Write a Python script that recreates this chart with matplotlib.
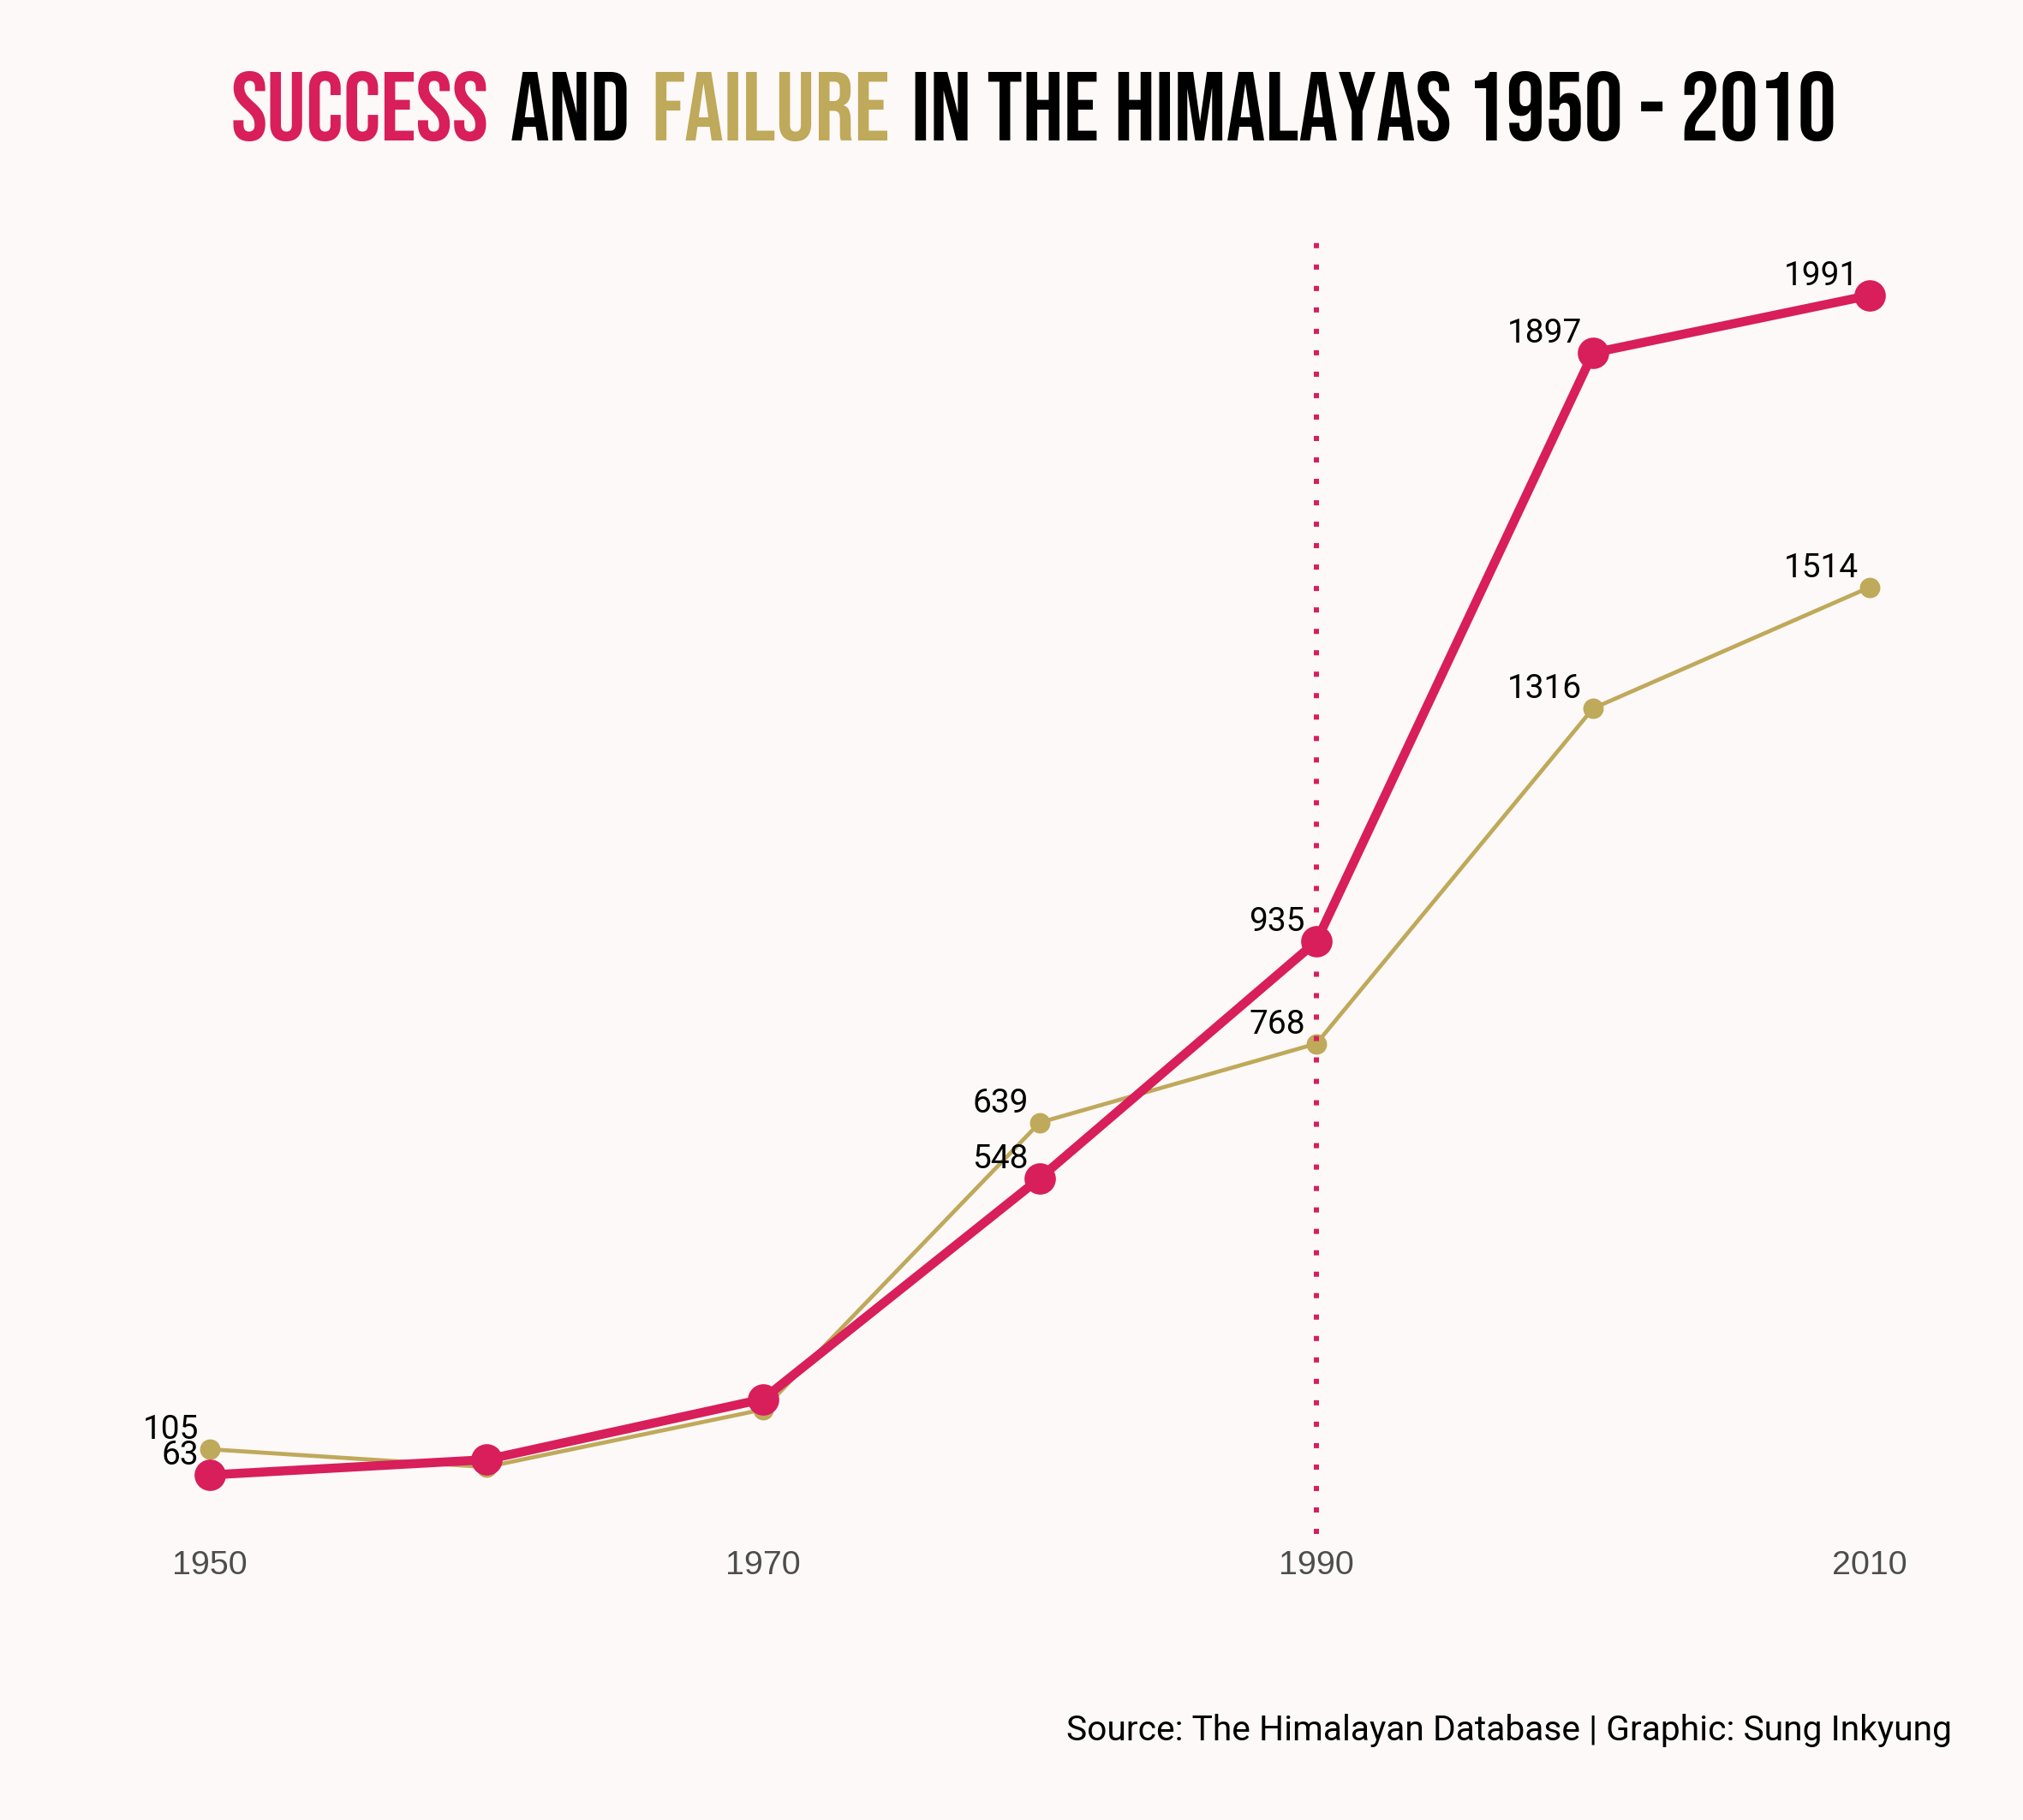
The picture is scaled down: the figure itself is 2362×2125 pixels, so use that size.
import matplotlib
matplotlib.use('Agg')
import matplotlib.pyplot as plt
from matplotlib import font_manager

years = [1950, 1960, 1970, 1980, 1990, 2000, 2010]
success = [63, 88, 187, 548, 935, 1897, 1991]
failure = [105, 76, 170, 639, 768, 1316, 1514]
label_years = [1950, 1980, 1990, 2000, 2010]
tick_years = [1950, 1970, 1990, 2010]
highlight_year = 1990
title_parts = ["SUCCESS", "AND", "FAILURE", "IN THE HIMALAYAS 1950 - 2010"]
caption = "Source: The Himalayan Database | Graphic: Sung Inkyung"

BG = "#FDF9F8"
RED = "#D81E5B"
GOLD = "#BFA95A"
title_colors = [RED, "black", GOLD, "black"]

# pick the narrowest installed bold family for the title
available = {f.name for f in font_manager.fontManager.ttflist}
title_family = 'DejaVu Sans'
for cand in ['Bebas Neue', 'Oswald', 'Roboto Condensed', 'Liberation Sans Narrow',
             'Open Sans Condensed', 'Noto Sans Condensed', 'DejaVu Sans Condensed']:
    if cand in available:
        title_family = cand
        break

W, H, DPI = 2362, 2125, 200
fig = plt.figure(figsize=(W / DPI, H / DPI), dpi=DPI, facecolor=BG)
ax = fig.add_axes([148 / W, 1 - 1791 / H, (2280 - 148) / W, (1791 - 276) / H])
ax.set_facecolor(BG)
ax.set_xlim(1947, 2013)
ax.set_ylim(-33.4, 2087.4)
for s in ax.spines.values():
    s.set_visible(False)
ax.set_yticks([])
ax.set_xticks(tick_years)
ax.set_xticklabels([str(y) for y in tick_years],
                   family=['Liberation Sans', 'DejaVu Sans'],
                   fontsize=14.2, color='#4D4D4D')
ax.tick_params(axis='x', length=0, pad=6.8)

ax.plot(years, failure, color=GOLD, lw=1.7, marker='o', ms=8.6, mew=0,
        zorder=2)
ax.axvline(highlight_year, color=RED, lw=2.16, ls=(0, (1, 3.17)),
           dash_capstyle='butt', zorder=3)
ax.plot(years, success, color=RED, lw=3.8, marker='o', ms=13.2, mew=0,
        zorder=4)

for series in (success, failure):
    for x, v in zip(years, series):
        if x in label_years:
            ax.annotate(str(v), (x, v), xytext=(-4.7, 4.3),
                        textcoords='offset points', ha='right',
                        va='baseline', fontsize=14,
                        family=['Roboto', 'DejaVu Sans'], color='black',
                        zorder=5)

fig.text(2279 / W, 1 - 2031.7 / H, caption, ha='right', va='baseline',
         fontsize=14.7, family=['Roboto', 'DejaVu Sans'], color='black')

# multi-coloured title
fig.canvas.draw()
r = fig.canvas.get_renderer()
base = 40
ty = 1 - 164.3 / H
texts = [fig.text(0, ty, p, fontsize=base,
                  family=[title_family, 'DejaVu Sans'],
                  weight='bold', color=c, va='baseline', ha='left')
         for p, c in zip(title_parts, title_colors)]
widths = [t.get_window_extent(r).width for t in texts]
gap = 25
target = 1875
scale = (target - gap * (len(texts) - 1)) / sum(widths)
for t in texts:
    t.set_fontsize(base * scale)
widths = [t.get_window_extent(r).width for t in texts]
total = sum(widths) + gap * (len(texts) - 1)
x = 1207 - total / 2
for t, w in zip(texts, widths):
    t.set_x(x / W)
    x += w + gap

fig.savefig('out.png', dpi=DPI, facecolor=BG)
